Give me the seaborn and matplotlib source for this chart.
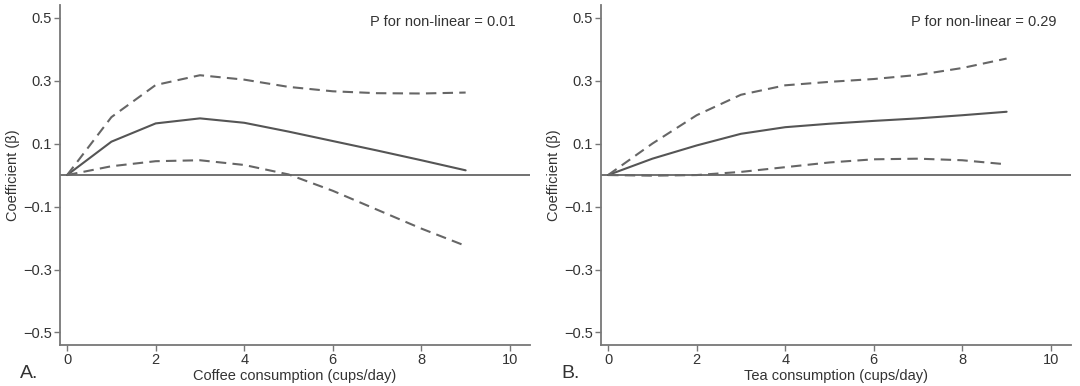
import numpy as np
import pandas as pd
import seaborn as sns
import matplotlib.pyplot as plt

# cups/day
cups = [0, 1, 2, 3, 4, 5, 6, 7, 8, 9]

# Coffee: estimate and 95% CI
coffee_beta = [0.0, 0.106, 0.164, 0.180, 0.166, 0.138, 0.108, 0.078, 0.047, 0.015]
coffee_upper = [0.0, 0.184, 0.286, 0.317, 0.303, 0.280, 0.266, 0.260, 0.259, 0.262]
coffee_lower = [0.0, 0.028, 0.044, 0.047, 0.032, 0.002, -0.050, -0.110, -0.170, -0.225]

# Tea: estimate and 95% CI
tea_beta = [0.0, 0.052, 0.094, 0.131, 0.152, 0.163, 0.172, 0.180, 0.190, 0.201]
tea_upper = [0.0, 0.100, 0.190, 0.255, 0.285, 0.296, 0.305, 0.318, 0.340, 0.370]
tea_lower = [0.0, -0.002, 0.0, 0.010, 0.025, 0.040, 0.050, 0.052, 0.047, 0.034]

p_values = ["0.01", "0.29"]
xlabels = ["Coffee consumption (cups/day)", "Tea consumption (cups/day)"]
panel_tags = ["A.", "B."]
yticks = [-0.5, -0.3, -0.1, 0.1, 0.3, 0.5]
xticks = [0, 2, 4, 6, 8, 10]

sns.set_theme(style="white")
plt.rcParams['font.family'] = ['Liberation Sans', 'DejaVu Sans']

fig = plt.figure(figsize=(10.8, 3.86), dpi=100)
positions = [[0.0556, 0.106, 0.435, 0.881], [0.5565, 0.106, 0.435, 0.881]]
series = [(coffee_beta, coffee_upper, coffee_lower), (tea_beta, tea_upper, tea_lower)]

line_col = "#555555"
axis_col = "#777777"

for i in range(2):
    ax = fig.add_axes(positions[i])
    beta, upper, lower = series[i]
    df = pd.DataFrame({"cups": cups, "beta": beta, "upper": upper, "lower": lower})
    ax.axhline(0, color="#666666", lw=1.3, zorder=1)
    sns.lineplot(data=df, x="cups", y="beta", ax=ax, color=line_col, lw=1.5)
    sns.lineplot(data=df, x="cups", y="upper", ax=ax, color="#666666", lw=1.5, linestyle=(0, (5, 3)))
    sns.lineplot(data=df, x="cups", y="lower", ax=ax, color="#666666", lw=1.5, linestyle=(0, (5, 3)))

    ax.set_xlim(-0.16, 10.45)
    ax.set_ylim(-0.54, 0.54)
    ax.set_xticks(xticks)
    ax.set_yticks(yticks)
    ax.set_yticklabels([f"{t:.1f}".replace("-", "\u2212") for t in yticks])
    ax.tick_params(axis="both", direction="out", length=4, width=1, color=axis_col,
                   labelsize=10.5, labelcolor="#333333", pad=2, left=True, bottom=True)
    for s in ["top", "right"]:
        ax.spines[s].set_visible(False)
    for s in ["left", "bottom"]:
        ax.spines[s].set_color(axis_col)
        ax.spines[s].set_linewidth(1.3)
    ax.set_xlabel(xlabels[i], fontsize=10.5, color="#333333", labelpad=1)
    ax.set_ylabel("Coefficient (\u03b2)", fontsize=10.5, color="#333333", labelpad=2)
    ax.text(0.97, 0.97, f"P for non-linear = {p_values[i]}", transform=ax.transAxes,
            ha="right", va="top", fontsize=10.5, color="#333333")
    ax.text(-0.085, -0.085, panel_tags[i], transform=ax.transAxes, ha="left", va="center",
            fontsize=14, color="#333333")

fig.savefig("out.png", dpi=100)
